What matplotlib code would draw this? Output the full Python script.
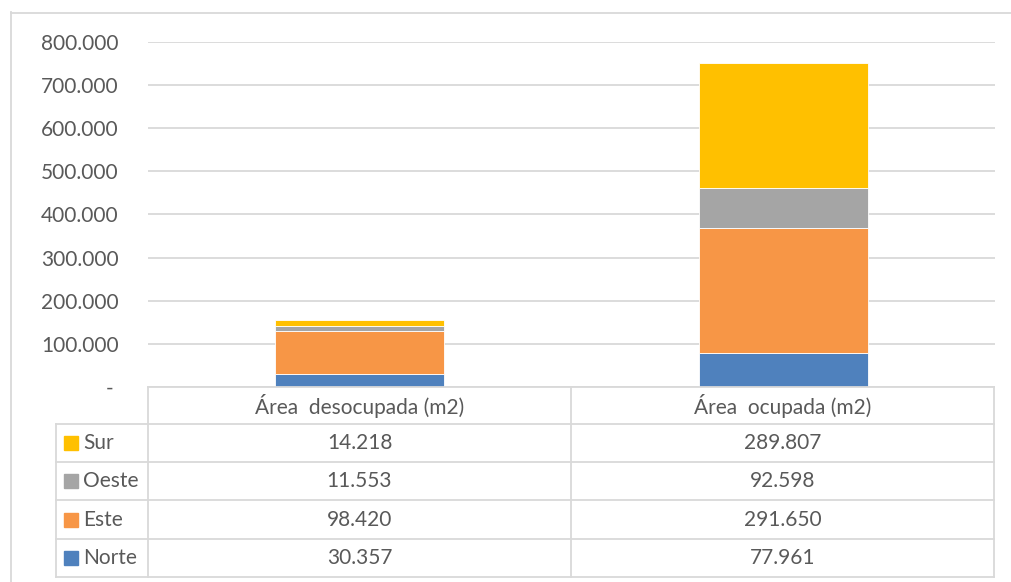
import matplotlib
matplotlib.use("Agg")
import matplotlib.pyplot as plt
from matplotlib.patches import Rectangle
from matplotlib.lines import Line2D
from matplotlib.ticker import FuncFormatter

# Data
categories = ["Área  desocupada (m2)", "Área  ocupada (m2)"]
series_names = ["Norte", "Este", "Oeste", "Sur"]
norte = [30357, 77961]
este = [98420, 291650]
oeste = [11553, 92598]
sur = [14218, 289807]
y_ticks = [0, 100000, 200000, 300000, 400000, 500000, 600000, 700000, 800000]

series_values = [norte, este, oeste, sur]
colors = ["#4F81BD", "#F79646", "#A5A5A5", "#FFC000"]

W, H = 1011, 582
DPI = 100
TEXT = "#595959"
GRID = "#D9D9D9"
FONT = "Lato"
FS = 15

plt.rcParams["font.family"] = [FONT, "DejaVu Sans"]

fig = plt.figure(figsize=(W / DPI, H / DPI), dpi=DPI)


def fx(px):
    return px / W


def fy(py):
    return 1 - py / H


# outer chart border
fig.add_artist(Line2D([fx(10.5), fx(10.5)], [fy(12), fy(582)], color=GRID, lw=1.3))
fig.add_artist(Line2D([fx(10.5), fx(1011)], [fy(12.5), fy(12.5)], color=GRID, lw=1.3))

# plot area
left, right, top, bottom = 148, 995, 42, 387
ax = fig.add_axes([fx(left), fy(bottom), fx(right - left), fy(top) - fy(bottom)])
x = list(range(len(categories)))
base = [0] * len(categories)
for name, vals, col in zip(series_names, series_values, colors):
    ax.bar(x, vals, width=0.4, bottom=base, color=col, edgecolor="white",
           linewidth=0.6, label=name, zorder=3)
    base = [b + v for b, v in zip(base, vals)]

ax.set_xlim(-0.5, len(categories) - 0.5)
ax.set_ylim(0, 800000)
ax.set_yticks(y_ticks)


def fmt(v, _):
    if v == 0:
        return "-"
    return f"{int(v):,}".replace(",", ".")


def axis_fmt(v, pos):
    # accounting style: the zero dash sits a little inside the column
    s = fmt(v, pos)
    return s + " " if s == "-" else s


ax.yaxis.set_major_formatter(FuncFormatter(axis_fmt))
ax.tick_params(axis="y", length=0, pad=21, labelsize=FS, labelcolor=TEXT)
ax.tick_params(axis="x", length=0, labelbottom=False)
ax.grid(axis="y", color=GRID, lw=1.3, zorder=0)
for s in ax.spines.values():
    s.set_visible(False)

# data table below the plot area
col_edges = [56, 148, 571, 994]
row_edges = [387, 424, 462, 500, 539, 577]
tax = fig.add_axes([0, 0, 1, 1])
tax.set_xlim(0, W)
tax.set_ylim(H, 0)
tax.axis("off")
lw = 1.3
# header row (no left label cell)
tax.plot([col_edges[1], col_edges[3]], [row_edges[0], row_edges[0]], color=GRID, lw=lw)
for r in row_edges[1:]:
    tax.plot([col_edges[0], col_edges[3]], [r, r], color=GRID, lw=lw)
tax.plot([col_edges[0], col_edges[0]], [row_edges[1], row_edges[-1]], color=GRID, lw=lw)
for c in col_edges[1:]:
    tax.plot([c, c], [row_edges[0], row_edges[-1]], color=GRID, lw=lw)

for j, cat in enumerate(categories):
    cx = (col_edges[j + 1] + col_edges[j + 2]) / 2
    tax.text(cx, (row_edges[0] + row_edges[1]) / 2, cat, ha="center", va="center",
             fontsize=FS, color=TEXT)

# rows listed top-down: Sur, Oeste, Este, Norte
order = list(range(len(series_names)))[::-1]
for i, si in enumerate(order):
    y0, y1 = row_edges[i + 1], row_edges[i + 2]
    cy = (y0 + y1) / 2
    tax.add_patch(Rectangle((64, cy - 7), 14, 14, color=colors[si]))
    tax.text(83, cy, series_names[si], ha="left", va="center", fontsize=FS, color=TEXT)
    for j in range(len(categories)):
        cx = (col_edges[j + 1] + col_edges[j + 2]) / 2
        tax.text(cx, cy, fmt(series_values[si][j], None), ha="center", va="center",
                 fontsize=FS, color=TEXT)

fig.savefig("out.png", dpi=DPI, facecolor="white")
